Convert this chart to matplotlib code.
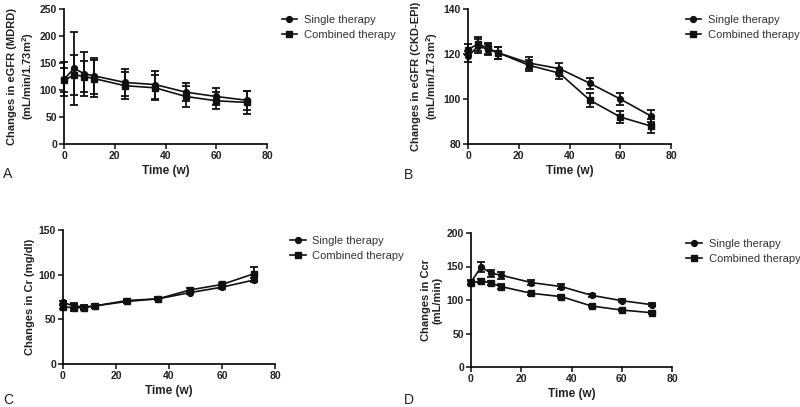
"""
Four-panel figure: renal function over time, single vs combined therapy.
Panels: A eGFR (MDRD), B eGFR (CKD-EPI), C Cr, D Ccr.
"""

import matplotlib
matplotlib.use('Agg')
import matplotlib.pyplot as plt


# ============================ Data ============================
WEEKS = [0, 4, 8, 12, 24, 36, 48, 60, 72]

# A: eGFR (MDRD)
A_SINGLE = [120, 140, 130, 126, 114, 110, 96, 88, 81]
A_SINGLE_ERR = [32, 68, 41, 33, 25, 26, 17, 16, 18]
A_COMB = [118, 128, 125, 121, 108, 104, 88, 80, 77]
A_COMB_ERR = [22, 37, 29, 34, 25, 23, 19, 16, 21]

# B: eGFR (CKD-EPI)
B_SINGLE = [119, 123.5, 122, 120.5, 116, 113.5, 107, 100, 92.5]
B_SINGLE_ERR = [2.5, 3, 2.5, 2.5, 2.5, 2.5, 2.5, 2.5, 2.5]
B_COMB = [122, 124.5, 122.5, 120.5, 115, 111.5, 99.5, 92, 88]
B_COMB_ERR = [2.5, 3, 2.5, 2.5, 2.5, 2.5, 3, 2.5, 3]

# C: Cr
C_SINGLE = [69, 65, 64, 65, 71, 73, 80, 86, 94]
C_SINGLE_ERR = [2, 3, 2, 2, 1.5, 1.5, 2, 2, 2]
C_COMB = [64, 63, 63, 65, 70, 73, 83, 89, 101]
C_COMB_ERR = [2, 4, 2, 2, 1.5, 1.5, 2, 2, 8]

# D: Ccr
D_SINGLE = [127, 149, 140, 137, 126, 120, 107, 99, 93]
D_SINGLE_ERR = [3, 7, 5, 5, 4, 4, 2, 2, 2]
D_COMB = [125, 129, 125, 120, 110, 105, 91, 85, 81]
D_COMB_ERR = [3, 3, 3, 4, 2, 2, 2, 2, 2]

PANELS = [
    dict(letter='A', single=A_SINGLE, s_err=A_SINGLE_ERR, comb=A_COMB, c_err=A_COMB_ERR,
         ylim=(0, 250), yticks=[0, 50, 100, 150, 200, 250],
         ylabel='Changes in eGFR (MDRD)\n(mL/min/1.73m$\\mathbf{^2}$)'),
    dict(letter='B', single=B_SINGLE, s_err=B_SINGLE_ERR, comb=B_COMB, c_err=B_COMB_ERR,
         ylim=(80, 140), yticks=[80, 100, 120, 140],
         ylabel='Changes in eGFR (CKD-EPI)\n(mL/min/1.73m$\\mathbf{^2}$)'),
    dict(letter='C', single=C_SINGLE, s_err=C_SINGLE_ERR, comb=C_COMB, c_err=C_COMB_ERR,
         ylim=(0, 150), yticks=[0, 50, 100, 150],
         ylabel='Changes in Cr (mg/dl)'),
    dict(letter='D', single=D_SINGLE, s_err=D_SINGLE_ERR, comb=D_COMB, c_err=D_COMB_ERR,
         ylim=(0, 200), yticks=[0, 50, 100, 150, 200],
         ylabel='Changes in Ccr\n(mL/min)'),
]

# axes boxes in pixels: (left, top, right, bottom)
BOXES = [(64, 9, 267, 144), (468, 9, 671, 144), (63, 230, 275, 364), (471, 233, 672, 367)]
LETTER_POS = [(3, 178), (404, 179), (3, 404), (404, 404)]

W, H = 800, 407
plt.rcParams['font.family'] = ['Liberation Sans', 'DejaVu Sans']
plt.rcParams['mathtext.fontset'] = 'custom'
plt.rcParams['mathtext.bf'] = 'Liberation Sans:bold'


def draw_panel(fig, box, p, letter_xy):
    l, t, r, b = box
    ax = fig.add_axes([l / W, 1 - b / H, (r - l) / W, (b - t) / H])
    ebkw = dict(fmt='none', ecolor='#111111', elinewidth=1.3, capsize=2.6,
                capthick=1.3, clip_on=False)
    lnkw = dict(color='#111111', linewidth=1.2, markersize=4.2, clip_on=False)
    ax.errorbar(WEEKS, p['single'], yerr=p['s_err'], **ebkw)
    ax.errorbar(WEEKS, p['comb'], yerr=p['c_err'], **ebkw)
    ax.plot(WEEKS, p['single'], marker='o', label='Single therapy', **lnkw)
    ax.plot(WEEKS, p['comb'], marker='s', label='Combined therapy', **lnkw)

    ax.set_xlim(0, 80)
    ax.set_ylim(*p['ylim'])
    ax.set_xticks([0, 20, 40, 60, 80])
    ax.set_yticks(p['yticks'])
    for side in ('top', 'right'):
        ax.spines[side].set_visible(False)
    for side in ('left', 'bottom'):
        ax.spines[side].set_linewidth(1.2)
    ax.tick_params(direction='out', length=3.5, width=1.2, labelsize=7.5, pad=1.5,
                   colors='#222222')
    for lbl in ax.get_xticklabels() + ax.get_yticklabels():
        lbl.set_fontweight('bold')
    ax.set_xlabel('Time (w)', fontsize=8.5, fontweight='bold', labelpad=3, color='#222222')
    ax.set_ylabel(p['ylabel'], fontsize=8, fontweight='bold', labelpad=3, color='#222222')

    ax.legend(loc='upper left', bbox_to_anchor=(1.05, 0.99), frameon=False,
              fontsize=8, handlelength=1.4, handletextpad=0.6,
              labelspacing=0.5, borderaxespad=0, labelcolor='#333333')

    fig.text(letter_xy[0] / W, 1 - letter_xy[1] / H, p['letter'], fontsize=10,
             ha='left', va='baseline', color='#222222')


def main():
    fig = plt.figure(figsize=(W / 100, H / 100), dpi=100)
    for box, p, lxy in zip(BOXES, PANELS, LETTER_POS):
        draw_panel(fig, box, p, lxy)
    fig.savefig('out.png', dpi=100)
    plt.close(fig)


if __name__ == "__main__":
    main()
